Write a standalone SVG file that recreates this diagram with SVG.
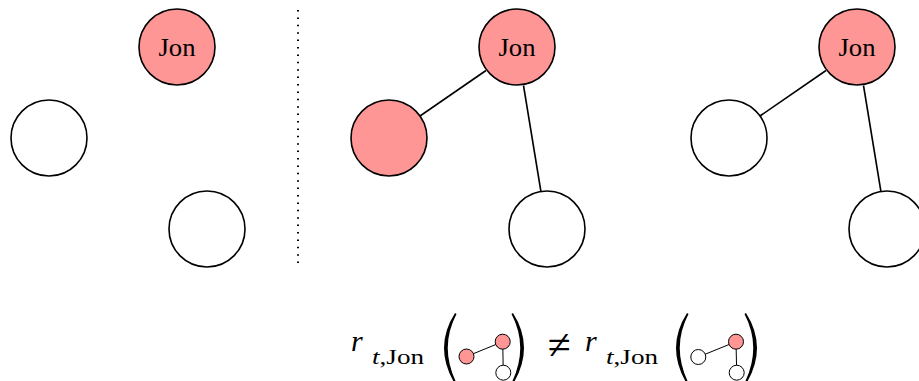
<svg xmlns="http://www.w3.org/2000/svg" width="919" height="381" viewBox="0 0 919 381">
<style>
.n{stroke:#000;stroke-width:1.6}
.r{fill:#ff9696}
.w{fill:#fff}
.e{stroke:#000;stroke-width:1.6;fill:none}
.lbl{font-family:"Liberation Serif","DejaVu Serif",serif;font-size:25px;fill:#000}
.m{font-family:"Liberation Serif","DejaVu Serif",serif;fill:#000}
.s{stroke:#000;stroke-width:1}
.p{fill:#000;stroke:none}
</style>
<rect width="919" height="381" fill="#fff"/>
<g id="connectors">
<line class="e" x1="486" y1="70.5" x2="420" y2="116"/>
<line class="e" x1="523.5" y1="85.5" x2="541" y2="192"/>
<line class="e" x1="826" y1="70.5" x2="760" y2="116"/>
<line class="e" x1="863.5" y1="85.5" x2="881" y2="192"/>
<line x1="298" y1="10" x2="298" y2="266" stroke="#000" stroke-width="2" stroke-dasharray="1.5 5.9"/>
</g>
<g id="a-jon"><circle class="n r" cx="177" cy="47" r="38"/><text class="lbl" x="177" y="56" text-anchor="middle" textLength="37" lengthAdjust="spacingAndGlyphs">Jon</text></g>
<g id="a-left"><circle class="n w" cx="49" cy="138" r="38"/></g>
<g id="a-bottom"><circle class="n w" cx="207" cy="229" r="38"/></g>
<g id="b-jon"><circle class="n r" cx="517" cy="47" r="38"/><text class="lbl" x="517" y="56" text-anchor="middle" textLength="37" lengthAdjust="spacingAndGlyphs">Jon</text></g>
<g id="b-left"><circle class="n r" cx="389" cy="138" r="38"/></g>
<g id="b-bottom"><circle class="n w" cx="547" cy="229" r="38"/></g>
<g id="c-jon"><circle class="n r" cx="857" cy="47" r="38"/><text class="lbl" x="857" y="56" text-anchor="middle" textLength="37" lengthAdjust="spacingAndGlyphs">Jon</text></g>
<g id="c-left"><circle class="n w" cx="729" cy="138" r="38"/></g>
<g id="c-bottom"><circle class="n w" cx="887" cy="229" r="38"/></g>
<g id="formula">
<text class="m" x="351" y="351" font-size="30" font-style="italic">r</text>
<text class="m" x="372" y="364" font-size="22" textLength="52" lengthAdjust="spacingAndGlyphs"><tspan font-style="italic">t</tspan>,Jon</text>
<path class="p" d="M455 313 Q433 347.5 455 384 L456.5 383 Q439 347.5 456.5 314 Z"/>
<line class="s" x1="466.5" y1="356.5" x2="502.7" y2="341.7"/>
<line class="s" x1="502.7" y1="341.7" x2="503.3" y2="372.7"/>
<circle class="s r" cx="466.5" cy="356.5" r="7.5"/>
<circle class="s r" cx="502.7" cy="341.7" r="7.5"/>
<circle class="s w" cx="503.3" cy="372.7" r="7.5"/>
<path class="p" d="M513 313 Q535 347.5 513 384 L511.5 383 Q529 347.5 511.5 314 Z"/>
<text class="m" x="559" y="359" font-size="42" text-anchor="middle">≠</text>
<text class="m" x="585" y="351" font-size="30" font-style="italic">r</text>
<text class="m" x="606" y="364" font-size="22" textLength="52" lengthAdjust="spacingAndGlyphs"><tspan font-style="italic">t</tspan>,Jon</text>
<path class="p" d="M687 313 Q665 347.5 687 384 L688.5 383 Q671 347.5 688.5 314 Z"/>
<line class="s" x1="698.3" y1="357" x2="736" y2="341.7"/>
<line class="s" x1="736" y1="341.7" x2="736.7" y2="372.7"/>
<circle class="s w" cx="698.3" cy="357" r="7.5"/>
<circle class="s r" cx="736" cy="341.7" r="7.5"/>
<circle class="s w" cx="736.7" cy="372.7" r="7.5"/>
<path class="p" d="M746 313 Q768 347.5 746 384 L744.5 383 Q762 347.5 744.5 314 Z"/>
</g>
</svg>
